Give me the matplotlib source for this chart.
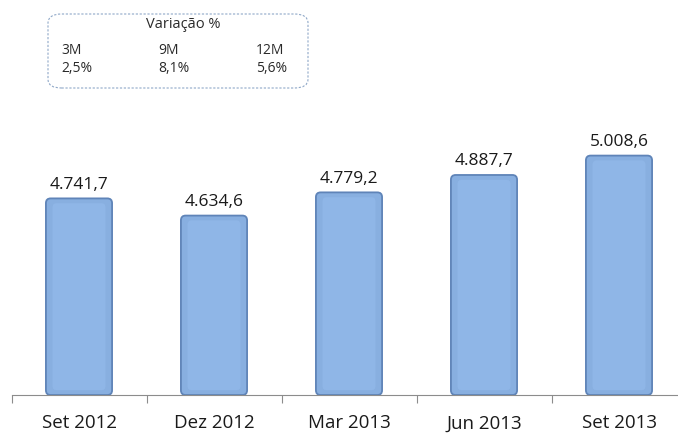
import matplotlib.pyplot as plt
import numpy as np
from matplotlib.patches import FancyBboxPatch

# dados
periodos = ['Set 2012', 'Dez 2012', 'Mar 2013', 'Jun 2013', 'Set 2013']
valores = [4741.7, 4634.6, 4779.2, 4887.7, 5008.6]
rotulos = ['4.741,7', '4.634,6', '4.779,2', '4.887,7', '5.008,6']
var_periodos = ['3M', '9M', '12M']
var_valores = ['2,5%', '8,1%', '5,6%']

plt.rcParams['font.family'] = ['Open Sans', 'DejaVu Sans']

fig = plt.figure(figsize=(6.78, 4.34), dpi=100)
W, H = 678, 434
# eixo: base em y=395 px, 135 px por categoria
ax = fig.add_axes([11.5 / W, (H - 395) / H, 675 / W, 300 / H])
ax.set_xlim(-0.5, 4.5)
y0 = 3516
ytop = y0 + 300 / 0.1604

bars = ax.bar(range(len(valores)), valores, width=0.49, color='none')
ax.set_ylim(y0, ytop)

asp = (1 / 0.1604) / (1 / 135)
for b in bars:
    x, w, h = b.get_x(), b.get_width(), b.get_height()
    ax.add_patch(FancyBboxPatch((x, y0), w, h - y0,
                                boxstyle='round,pad=0,rounding_size=0.035',
                                mutation_aspect=asp,
                                facecolor='#88afe0', edgecolor='#5f84b8', linewidth=1.3,
                                zorder=2))
    # brilho central suave
    ax.add_patch(FancyBboxPatch((x + w * 0.1, y0 + 30), w * 0.8, h - y0 - 60,
                                boxstyle='round,pad=0,rounding_size=0.03',
                                mutation_aspect=asp,
                                facecolor='#8fb6e7', edgecolor='none', zorder=2.2))
    b.set_visible(False)

for i, (v, r) in enumerate(zip(valores, rotulos)):
    ax.annotate(r, (i, v), xytext=(0, 4), textcoords='offset points',
                ha='center', va='bottom', fontsize=12.5, color='#1a1a1a')

for s in ['top', 'right', 'left']:
    ax.spines[s].set_visible(False)
ax.spines['bottom'].set_color('#8c8c8c')
ax.set_yticks([])
ax.set_xticks(np.arange(-0.5, 5, 1))
ax.set_xticklabels([])
ax.set_xticks(range(len(periodos)), minor=True)
ax.set_xticklabels(periodos, minor=True, fontsize=13.5, color='#1a1a1a')
ax.tick_params(axis='x', which='major', direction='out', length=6, color='#8c8c8c')
ax.tick_params(axis='x', which='minor', length=0, pad=14)

# caixa de variação
box = FancyBboxPatch((48 / W, 1 - 88 / H), 260 / W, 74 / H,
                     boxstyle='round,pad=0,rounding_size=0.02',
                     transform=fig.transFigure, facecolor='white',
                     edgecolor='#8fa8c8', linewidth=0.8, linestyle=(0, (2, 1.5)))
fig.add_artist(box)
fig.text(183 / W, 1 - 24 / H, 'Variação %', ha='center', va='center', fontsize=10.5, color='#2a2a2a')
for xp, p, v in zip([61, 158, 256], var_periodos, var_valores):
    fig.text(xp / W, 1 - 51 / H, p, ha='left', va='center', fontsize=10, color='#2a2a2a')
    fig.text(xp / W, 1 - 68 / H, v, ha='left', va='center', fontsize=10, color='#2a2a2a')

fig.savefig('out.png', dpi=100)
